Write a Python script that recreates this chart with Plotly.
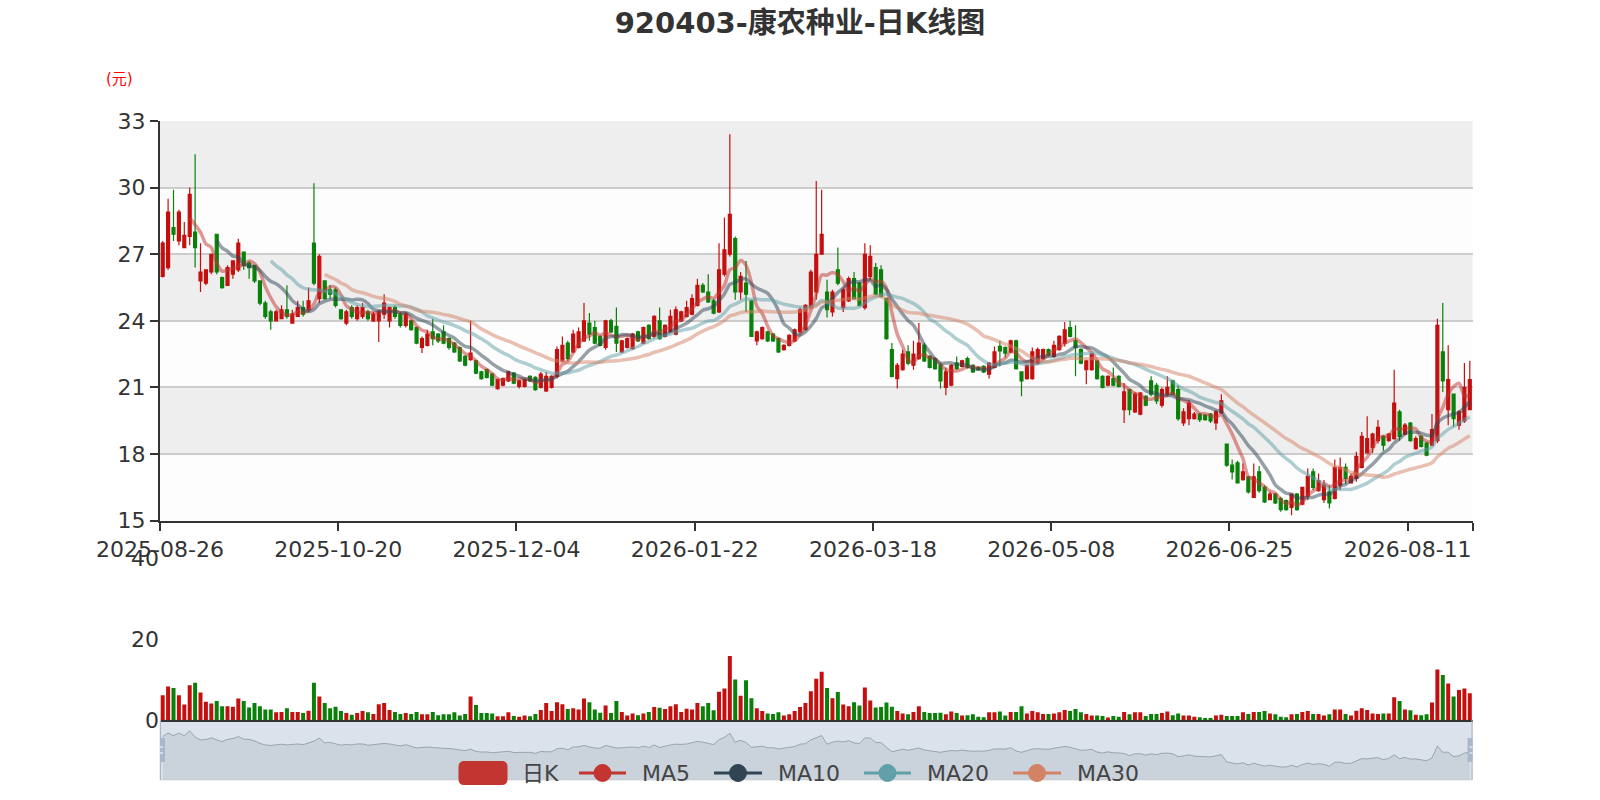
import plotly.graph_objects as go
import pandas as pd

TITLE = "920403-康农种业-日K线图"
Y_NAME = "(元)"
HOLIDAYS = ["2025-10-01", "2025-10-02", "2025-10-03", "2025-10-06", "2025-10-07", "2025-10-08",
            "2026-01-01", "2026-01-02", "2026-02-16", "2026-02-17", "2026-02-18", "2026-02-19",
            "2026-02-20", "2026-02-23", "2026-04-06", "2026-05-01", "2026-05-04", "2026-05-05",
            "2026-06-19"]
dates = [d.strftime("%Y-%m-%d") for d in pd.bdate_range("2025-08-26", "2026-08-26")
         if d.strftime("%Y-%m-%d") not in HOLIDAYS]
TICK_LABELS = ["2025-08-26", "2025-10-20", "2025-12-04", "2026-01-22",
               "2026-03-18", "2026-05-08", "2026-06-25", "2026-08-11"]

OPEN = [26.0, 26.4, 28.2, 27.6, 27.3, 27.8, 28.0, 25.8, 25.7, 26.2,
        27.9, 25.95, 25.6, 26.1, 26.3, 27.1, 26.6, 26.5, 25.8, 24.8,
        24.4, 24.0, 24.1, 24.5, 23.9, 24.2, 24.6, 24.5, 27.5, 25.0,
        25.8, 25.4, 25.4, 24.5, 23.9, 24.6, 24.1, 24.2, 24.4, 24.0,
        24.0, 24.3, 24.0, 24.6, 24.3, 23.8, 24.0, 23.7, 22.8, 22.9,
        23.5, 23.4, 23.5, 23.2, 23.0, 22.8, 22.4, 22.25, 22.2, 21.7,
        21.8, 21.6, 20.95, 21.1, 21.3, 21.65, 21.05, 21.05, 21.5, 21.45,
        21.0, 20.85, 21.0, 21.5, 22.2, 23.0, 22.6, 22.8, 23.1, 23.9,
        23.7, 23.3, 22.8, 24.0, 23.75, 22.6, 22.8, 22.75, 23.5, 23.0,
        23.8, 23.3, 24.0, 23.3, 23.5, 23.4, 24.0, 24.2, 24.3, 24.7,
        25.6, 25.3, 24.9, 24.4, 26.1, 27.0, 27.7, 25.3, 25.7, 24.9,
        23.1, 23.2, 23.5, 23.4, 23.2, 22.7, 22.9, 23.1, 23.5, 23.6,
        24.6, 25.3, 27.0, 25.3, 24.4, 26.3, 24.6, 24.9, 25.9, 25.7,
        24.6, 26.0, 26.4, 26.3, 25.0, 22.7, 21.4, 21.8, 22.6, 22.0,
        22.3, 22.9, 22.4, 22.3, 22.0, 21.0, 21.1, 22.1, 21.95, 22.3,
        22.0, 21.9, 21.95, 21.6, 21.9, 22.85, 22.8, 22.6, 23.1, 21.7,
        21.4, 21.4, 22.1, 22.3, 22.7, 22.4, 22.7, 23.0, 23.7, 23.1,
        22.7, 21.8, 21.8, 22.2, 21.5, 21.1, 21.4, 21.5, 20.0, 20.9,
        19.9, 19.8, 20.6, 21.3, 21.1, 20.2, 20.7, 21.3, 20.9, 19.4,
        19.6, 19.6, 19.8, 19.75, 19.8, 19.4, 19.85, 18.45, 17.5, 17.6,
        16.85, 16.98, 16.05, 17.2, 16.5, 15.95, 16.2, 16.0, 15.9, 15.6,
        16.2, 15.75, 16.1, 17.2, 16.35, 15.95, 16.3, 16.0, 16.6, 17.4,
        16.7, 16.9, 17.4, 18.05, 18.3, 18.6, 18.8, 18.6, 18.7, 19.9,
        18.9, 19.4, 18.25, 18.8, 18.5, 18.4, 18.6, 22.6, 20.0, 20.7,
        19.3, 19.5, 20.0]
CLOSE = [27.5, 28.9, 27.9, 28.9, 27.85, 29.7, 27.3, 26.2, 26.3, 27.0,
         26.2, 25.5, 26.4, 26.7, 27.5, 26.5, 26.4, 25.8, 24.8, 24.2,
         24.0, 24.4, 24.5, 24.2, 24.3, 24.6, 24.3, 24.9, 25.7, 26.9,
         25.0, 25.2, 24.7, 24.1, 24.4, 24.2, 24.6, 24.6, 24.1, 24.3,
         24.4, 24.8, 24.6, 24.2, 23.8, 24.3, 23.6, 23.0, 23.2, 23.4,
         23.2, 23.1, 23.0, 22.8, 22.6, 22.2, 22.0, 22.55, 21.65, 21.4,
         21.45, 21.1, 21.35, 21.4, 21.7, 21.2, 21.3, 21.35, 21.3, 20.9,
         21.6, 21.5, 21.5, 22.7, 22.9, 22.3, 23.4, 23.5, 24.0, 23.4,
         23.0, 22.9, 24.0, 23.5, 23.0, 23.1, 23.2, 23.4, 23.1, 23.7,
         23.2, 24.2, 23.2, 23.8, 24.2, 24.5, 24.4, 24.6, 25.0, 25.6,
         25.3, 24.85, 24.35, 26.3, 27.2, 28.8, 25.3, 26.0, 25.2, 23.3,
         23.5, 23.7, 23.1, 23.1, 22.6, 22.9, 23.35, 23.6, 24.5, 24.7,
         26.2, 27.0, 27.9, 24.5, 25.3, 25.7, 25.4, 25.9, 25.0, 24.7,
         27.0, 26.9, 25.2, 25.1, 23.2, 21.5, 22.0, 22.5, 22.1, 22.5,
         23.0, 22.2, 21.9, 21.85, 21.3, 21.7, 22.0, 21.85, 22.2, 21.9,
         21.7, 21.8, 21.7, 22.1, 22.6, 22.65, 22.55, 23.1, 21.85, 21.3,
         22.0, 22.6, 22.7, 22.7, 22.45, 22.9, 23.3, 23.6, 23.3, 22.8,
         22.1, 22.2, 22.5, 21.4, 21.0, 21.5, 21.1, 21.05, 20.8, 20.0,
         20.7, 20.75, 20.2, 20.7, 20.4, 20.9, 21.0, 20.7, 19.6, 19.9,
         20.3, 19.8, 19.55, 19.55, 19.5, 19.9, 20.4, 17.5, 17.2, 16.7,
         17.2, 16.3, 16.98, 16.35, 15.85, 16.2, 15.8, 15.5, 15.5, 16.2,
         15.5, 16.5, 17.0, 16.5, 16.8, 16.6, 15.8, 17.4, 17.4, 16.9,
         17.0, 17.9, 18.8, 18.7, 18.9, 19.2, 18.4, 18.9, 20.3, 18.8,
         19.3, 18.6, 18.7, 18.35, 17.95, 19.1, 23.8, 21.3, 21.35, 19.6,
         19.9, 21.0, 21.35]
HIGH = [27.6, 29.5, 29.9, 29.0, 28.45, 30.0, 31.5, 27.5, 26.3, 27.0,
        27.9, 26.0, 26.5, 26.7, 27.7, 27.1, 26.7, 26.5, 25.8, 24.9,
        24.5, 24.5, 24.7, 25.6, 24.5, 24.9, 24.9, 25.5, 30.2, 27.0,
        25.8, 25.6, 25.5, 24.5, 24.5, 24.7, 24.7, 24.8, 24.5, 24.4,
        24.5, 25.2, 24.65, 24.7, 24.4, 24.4, 24.05, 23.75, 23.3, 23.6,
        24.1, 23.45, 23.8, 23.25, 23.05, 22.85, 22.45, 24.0, 22.25, 21.75,
        21.85, 21.65, 21.4, 21.45, 21.75, 21.7, 21.35, 21.4, 21.55, 21.5,
        21.7, 21.7, 21.55, 22.85, 23.3, 23.1, 23.6, 23.7, 24.8, 24.35,
        24.0, 23.35, 24.05, 24.1, 24.6, 23.15, 23.25, 23.45, 23.55, 23.75,
        23.85, 24.25, 24.6, 23.85, 24.5, 24.65, 24.45, 24.9, 25.2, 25.9,
        25.7, 26.1, 25.0, 27.5, 28.65, 32.4, 27.8, 26.2, 26.7, 24.95,
        23.55, 23.75, 23.55, 23.45, 23.25, 22.95, 23.4, 23.65, 24.6, 24.75,
        26.3, 30.3, 29.9, 25.85, 25.4, 27.3, 25.5, 26.0, 26.2, 25.75,
        27.5, 27.4, 26.6, 26.5, 25.05, 23.0, 22.1, 22.7, 22.9, 23.1,
        23.9, 23.0, 22.45, 22.35, 22.1, 21.9, 22.05, 22.4, 22.25, 22.4,
        22.05, 21.95, 22.0, 22.15, 22.85, 23.1, 22.85, 23.15, 23.15, 21.7,
        22.05, 22.8, 22.8, 22.75, 22.75, 23.1, 23.35, 23.95, 24.0, 23.8,
        22.75, 22.25, 22.55, 22.25, 21.55, 21.55, 21.9, 21.55, 21.2, 20.95,
        20.8, 20.8, 20.65, 21.5, 21.2, 21.0, 21.5, 21.35, 21.1, 20.06,
        20.43, 19.9, 19.85, 19.8, 19.85, 19.98, 20.7, 18.45, 17.76, 17.7,
        17.58, 16.98, 17.58, 17.46, 16.6, 16.3, 16.25, 16.08, 15.95, 16.23,
        16.25, 16.53, 17.35, 17.35, 17.13, 16.83, 16.6, 17.76, 17.85, 17.58,
        17.13, 18.1, 19.0, 19.7, 18.96, 19.53, 18.85, 18.95, 21.8, 20.0,
        19.4, 19.45, 18.8, 18.85, 18.56, 19.8, 24.1, 24.8, 22.9, 20.73,
        19.98, 22.1, 22.2]
LOW = [25.95, 26.3, 27.6, 27.4, 27.3, 27.4, 26.4, 25.3, 25.6, 26.1,
       26.1, 25.45, 25.6, 25.9, 26.2, 26.3, 25.9, 25.7, 24.7, 24.1,
       23.6, 24.0, 24.1, 24.1, 23.9, 24.2, 24.2, 24.4, 25.6, 24.8,
       24.95, 25.0, 24.6, 24.05, 23.8, 24.1, 24.0, 24.1, 24.0, 23.95,
       23.05, 24.1, 23.7, 24.1, 23.7, 23.7, 23.55, 22.95, 22.55, 22.85,
       22.9, 23.0, 22.95, 22.7, 22.55, 22.15, 21.95, 22.2, 21.6, 21.35,
       21.4, 21.05, 20.9, 21.05, 21.25, 21.15, 20.95, 21.0, 21.25, 20.85,
       20.95, 20.8, 20.95, 21.4, 22.15, 22.2, 22.55, 22.75, 23.05, 23.1,
       22.95, 22.85, 22.7, 23.45, 22.6, 22.55, 22.75, 22.7, 23.05, 22.95,
       23.15, 23.2, 23.15, 23.25, 23.45, 23.35, 23.95, 24.15, 24.25, 24.65,
       25.25, 24.8, 24.3, 24.35, 26.0, 26.9, 24.95, 24.95, 24.4, 23.3,
       22.9, 23.15, 23.05, 23.05, 22.55, 22.65, 22.85, 23.05, 23.45, 23.55,
       24.55, 24.95, 27.0, 24.15, 24.2, 25.6, 24.4, 24.85, 24.95, 24.65,
       24.5, 25.85, 25.15, 25.05, 23.15, 21.45, 20.95, 21.75, 22.0, 21.8,
       22.25, 22.15, 21.85, 21.8, 20.95, 20.65, 21.05, 21.8, 21.9, 21.85,
       21.65, 21.75, 21.65, 21.4, 21.85, 21.95, 22.35, 22.55, 21.8, 20.6,
       21.35, 21.35, 22.05, 22.25, 22.4, 22.35, 22.65, 22.85, 23.25, 21.5,
       22.05, 21.15, 21.75, 21.35, 20.95, 21.05, 21.05, 21.0, 19.4, 19.75,
       19.85, 19.75, 20.15, 20.6, 20.25, 20.1, 20.6, 20.65, 19.5, 19.26,
       19.3, 19.56, 19.45, 19.5, 19.4, 19.08, 19.8, 17.43, 16.86, 16.68,
       16.8, 16.23, 16.05, 16.26, 15.8, 15.93, 15.75, 15.4, 15.45, 15.25,
       15.45, 15.7, 15.93, 16.38, 16.3, 15.8, 15.55, 15.96, 16.38, 16.65,
       16.68, 16.75, 17.35, 18.03, 18.05, 18.48, 18.15, 18.55, 18.65, 18.6,
       18.85, 18.55, 18.2, 18.3, 17.9, 18.35, 18.5, 20.8, 19.3, 19.23,
       19.1, 19.4, 20.0]
VOLUME = [6.1, 8.3, 7.9, 6.1, 3.8, 8.6, 9.2, 6.8, 4.5, 4.1,
          4.7, 3.4, 3.4, 3.3, 5.3, 4.7, 3.1, 4.2, 3.4, 2.6,
          2.6, 1.9, 2.0, 2.9, 2.0, 2.0, 1.7, 2.3, 9.2, 5.8,
          4.2, 2.9, 3.3, 2.2, 1.7, 1.3, 1.7, 2.2, 1.9, 1.5,
          3.9, 4.2, 2.5, 2.0, 1.5, 1.7, 1.5, 2.0, 1.4, 1.4,
          2.0, 1.2, 1.4, 1.4, 1.9, 1.1, 1.5, 5.8, 3.7, 1.7,
          1.7, 1.6, 0.9, 0.9, 1.9, 1.0, 0.8, 1.1, 0.9, 1.5,
          2.5, 4.2, 2.2, 4.4, 3.9, 2.7, 2.9, 2.6, 5.3, 4.4,
          2.6, 1.8, 3.6, 1.7, 4.7, 2.0, 1.1, 1.6, 1.2, 1.6,
          2.0, 3.2, 3.0, 2.7, 3.4, 3.9, 2.0, 2.8, 2.6, 4.2,
          3.4, 4.2, 2.4, 7.0, 7.8, 15.8, 10.0, 6.0, 9.8, 5.4,
          2.9, 2.2, 1.6, 1.5, 1.9, 1.1, 1.4, 2.2, 3.2, 4.2,
          7.1, 10.2, 11.9, 7.9, 5.4, 6.9, 3.8, 3.4, 4.4, 3.6,
          8.0, 4.8, 3.1, 3.2, 4.3, 3.3, 2.2, 1.6, 1.4, 2.0,
          3.4, 2.0, 1.7, 1.7, 1.8, 1.4, 2.1, 1.7, 1.1, 1.2,
          1.4, 0.8, 0.65, 1.9, 1.9, 2.1, 1.1, 2.0, 2.0, 3.4,
          1.6, 2.2, 1.9, 1.5, 1.5, 1.6, 1.9, 2.5, 2.2, 2.7,
          1.9, 1.5, 1.1, 1.1, 1.0, 0.6, 1.0, 0.8, 2.0, 1.4,
          1.9, 1.9, 1.0, 1.5, 1.5, 1.7, 2.1, 1.2, 1.6, 1.1,
          1.1, 0.8, 0.65, 0.5, 0.5, 1.1, 1.3, 1.0, 1.0, 1.0,
          1.9, 1.5, 2.0, 2.0, 2.2, 1.6, 1.4, 0.8, 0.7, 1.4,
          1.5, 2.0, 2.2, 1.5, 1.5, 1.1, 1.4, 2.6, 2.6, 1.5,
          1.1, 2.3, 2.9, 2.5, 1.6, 1.5, 1.6, 1.6, 5.6, 4.7,
          2.6, 2.4, 1.3, 1.2, 1.4, 4.3, 12.5, 11.1, 9.0, 5.8,
          7.4, 7.8, 6.6]

MA_DAYS = [5, 10, 20, 30]
MA_COLORS = ["#c23531", "#2f4554", "#61a0a8", "#d48265"]
RED = "#c40f0f"
GREEN = "#0a800a"

n = len(CLOSE)
idx = list(range(n))


def moving_average(days):
    out = []
    for i in range(n):
        if i < days:
            out.append(None)
        else:
            out.append(sum(CLOSE[i - j] for j in range(days)) / days)
    return out


W, H = 1600, 800
X_DOM = [160 / W, 1472.5 / W]
Y_PRICE = [1 - 520.7 / H, 1 - 121 / H]
Y_VOL = [1 - 720 / H, 1 - 558 / H]
Y_SLIDER = [1 - 780 / H, 1 - 720 / H]
XR = [-0.5, n - 0.5]
FONT = "DejaVu Sans, Noto Sans CJK SC, sans-serif"

fig = go.Figure()

fig.add_trace(go.Candlestick(
    x=idx, open=OPEN, high=HIGH, low=LOW, close=CLOSE, name="日K",
    increasing=dict(line=dict(color=RED, width=1.2), fillcolor=RED),
    decreasing=dict(line=dict(color=GREEN, width=1.2), fillcolor=GREEN),
    whiskerwidth=0, xaxis="x", yaxis="y", showlegend=False,
    customdata=dates, hoverinfo="skip"))

for d, c in zip(MA_DAYS, MA_COLORS):
    fig.add_trace(go.Scatter(
        x=idx, y=moving_average(d), mode="lines", name=f"MA{d}",
        line=dict(color=c, width=3.5, shape="spline", smoothing=0.8),
        opacity=0.5, xaxis="x", yaxis="y", showlegend=False, hoverinfo="skip"))

vol_colors = [RED if c >= o else GREEN for o, c in zip(OPEN, CLOSE)]
fig.add_trace(go.Bar(x=idx, y=VOLUME, marker=dict(color=vol_colors, line=dict(width=0)),
                     xaxis="x2", yaxis="y2", showlegend=False, hoverinfo="skip"))

# data zoom shadow
cmin, cmax = min(CLOSE), max(CLOSE)
span = (cmax - cmin) / 0.6
lo = cmin - 0.217 * span
fig.add_trace(go.Scatter(x=idx, y=CLOSE, mode="lines", fill="tozeroy",
                         fillcolor="rgba(47,69,84,0.10)",
                         line=dict(color="rgba(47,69,84,0.35)", width=1),
                         xaxis="x3", yaxis="y3", showlegend=False, hoverinfo="skip"))

shapes = []
# split area bands
for k, b in enumerate(range(15, 33, 3)):
    shapes.append(dict(type="rect", xref="x domain", yref="y", x0=0, x1=1, y0=b, y1=b + 3,
                       fillcolor="#fdfdfd" if k % 2 == 0 else "#eeeeee",
                       line=dict(width=0), layer="below"))
# slider background
shapes.append(dict(type="rect", xref="x3 domain", yref="y3 domain", x0=0, x1=1, y0=0, y1=1,
                   fillcolor="rgba(167,183,204,0.4)", line=dict(color="#dddddd", width=1),
                   layer="below"))
# slider handles
for xa in XR:
    shapes.append(dict(type="line", xref="x3", yref="y3 domain", x0=xa, x1=xa, y0=0, y1=1,
                       line=dict(color="#a7b7cc", width=2)))
    shapes.append(dict(type="rect", xref="x3", yref="y3 domain", xsizemode="pixel", xanchor=xa,
                       x0=-5, x1=5, y0=0.3, y1=0.7, fillcolor="#a7b7cc", line=dict(width=0)))
    for yy in (0.45, 0.55):
        shapes.append(dict(type="line", xref="x3", yref="y3 domain", xsizemode="pixel", xanchor=xa,
                           x0=-3, x1=3, y0=yy, y1=yy, line=dict(color="white", width=1)))


def px(x):
    return x / W


def py(y):
    return 1 - y / H


annotations = []
# legend (drawn manually, ECharts style)
LEG_Y = 773
legend_items = [("日K", None, 459, 507, 520), ("MA5", MA_COLORS[0], 579, 626, 640),
                ("MA10", MA_COLORS[1], 714, 762, 776), ("MA20", MA_COLORS[2], 864, 911, 925),
                ("MA30", MA_COLORS[3], 1013, 1061, 1075)]
for name, col, x0, x1, tx in legend_items:
    if col is None:
        r = 5
        y0, y1 = LEG_Y - 11.5, LEG_Y + 11.5
        path = (f"M{px(x0 + r)},{py(y0)} L{px(x1 - r)},{py(y0)} Q{px(x1)},{py(y0)} {px(x1)},{py(y0 + r)} "
                f"L{px(x1)},{py(y1 - r)} Q{px(x1)},{py(y1)} {px(x1 - r)},{py(y1)} "
                f"L{px(x0 + r)},{py(y1)} Q{px(x0)},{py(y1)} {px(x0)},{py(y1 - r)} "
                f"L{px(x0)},{py(y0 + r)} Q{px(x0)},{py(y0)} {px(x0 + r)},{py(y0)} Z")
        shapes.append(dict(type="path", xref="paper", yref="paper", path=path,
                           fillcolor="#c23531", line=dict(color="#c23531", width=1)))
    else:
        shapes.append(dict(type="line", xref="paper", yref="paper", x0=px(x0), x1=px(x1),
                           y0=py(LEG_Y), y1=py(LEG_Y), line=dict(color=col, width=3)))
        cx = (x0 + x1) / 2
        rr = 8.5
        shapes.append(dict(type="circle", xref="paper", yref="paper", x0=px(cx - rr), x1=px(cx + rr),
                           y0=py(LEG_Y + rr), y1=py(LEG_Y - rr), fillcolor=col,
                           line=dict(color=col, width=1)))
    annotations.append(dict(text=name, xref="paper", yref="paper", x=px(tx), y=py(LEG_Y),
                            xanchor="left", yanchor="middle", showarrow=False,
                            font=dict(family=FONT, size=22, color="#444444")))

annotations.append(dict(text=Y_NAME, xref="paper", yref="paper", x=px(119.5), y=py(78.6),
                        xanchor="center", yanchor="middle", showarrow=False,
                        font=dict(family=FONT, size=15, color="#ff0000")))

tickvals = [dates.index(t) - 0.5 for t in TICK_LABELS] + [n - 0.5]
ticktext = TICK_LABELS + [""]

fig.update_layout(
    width=W, height=H, autosize=False,
    margin=dict(l=0, r=0, t=0, b=0, pad=0, autoexpand=False),
    paper_bgcolor="white", plot_bgcolor="rgba(0,0,0,0)",
    font=dict(family=FONT, color="#333333"),
    title=dict(text=f"<b>{TITLE}</b>", x=0.5, xanchor="center", y=py(23), yanchor="middle",
               font=dict(family="DejaVu Sans, Noto Sans CJK SC", size=29, color="#333333")),
    showlegend=False,
    bargap=0.26,
    boxgap=0.22,
    shapes=shapes,
    annotations=annotations,
    xaxis=dict(domain=X_DOM, range=XR, anchor="y", rangeslider=dict(visible=False),
               automargin=False,
               tickmode="array", tickvals=tickvals, ticktext=ticktext,
               ticks="outside", ticklen=8, tickwidth=1.5, tickcolor="#333333",
               showline=True, linecolor="#333333", linewidth=2, showgrid=False, zeroline=False,
               tickfont=dict(family=FONT, size=22, color="#333333")),
    yaxis=dict(domain=Y_PRICE, range=[15, 33], anchor="x", tickmode="array", automargin=False,
               tickvals=list(range(15, 34, 3)), ticks="outside", ticklen=8, tickwidth=1.5,
               tickcolor="#333333", showline=True, linecolor="#333333", linewidth=2,
               showgrid=True, gridcolor="#cccccc", gridwidth=1.5, zeroline=False,
               tickfont=dict(family=FONT, size=22, color="#333333")),
    xaxis2=dict(domain=X_DOM, range=XR, anchor="y2", matches="x", showticklabels=False,
                automargin=False,
                showline=True, linecolor="#333333", linewidth=2, showgrid=False, zeroline=False,
                ticks=""),
    yaxis2=dict(domain=Y_VOL, range=[0, 40], anchor="x2", tickmode="array", tickvals=[0, 20, 40],
                automargin=False,
                showline=False, showgrid=False, zeroline=False, ticks="",
                tickfont=dict(family=FONT, size=22, color="#333333")),
    xaxis3=dict(domain=X_DOM, range=XR, anchor="y3", visible=False, automargin=False),
    yaxis3=dict(domain=Y_SLIDER, range=[lo, lo + span], anchor="x3", visible=False,
                automargin=False),
)

fig.write_html("out.html", config={"displayModeBar": False},
               post_script="document.body.style.margin='0';")
